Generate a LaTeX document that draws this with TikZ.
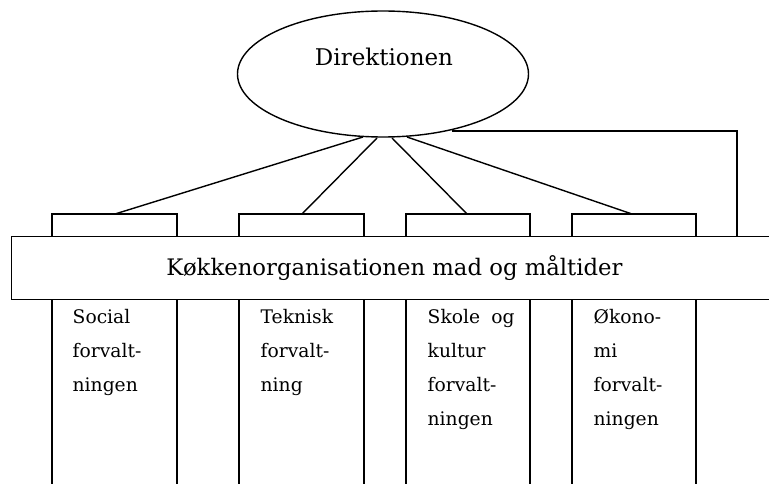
\documentclass[tikz,border=0pt]{standalone}
\usepackage{fontspec}
\setmainfont{DejaVu Serif}
\usetikzlibrary{shapes.geometric,calc}
\begin{document}
\begin{tikzpicture}[x=1pt,y=-1pt,line width=1.4pt,
  col/.style={draw,line width=1.4pt},
  coltext/.style={anchor=north west,align=left,inner sep=0pt,font=\fontsize{18.7}{34}\selectfont},
  conn/.style={draw,line width=1.4pt}]
\useasboundingbox (0,0) rectangle (769,484);
\begin{scope}
\clip (0,0) rectangle (769,484);
% columns (boxes behind the bar)
\draw[col] (52,214) rectangle (177,520);
\draw[col] (239,214) rectangle (364,520);
\draw[col] (406,214) rectangle (530,520);
\draw[col] (572,214) rectangle (696,520);
\coordinate (b1) at (115,214);
\coordinate (b2) at (302,214);
\coordinate (b3) at (467,214);
\coordinate (b4) at (632,214);
% bar
\node[draw,fill=white,line width=1.4pt,minimum width=771pt,minimum height=63pt,inner sep=0pt,anchor=north west] (bar) at (11,236) {};
\node[font=\fontsize{22.75}{26}\selectfont] (bartext) at (394.5,268) {Køkkenorganisationen mad og måltider};
% ellipse
\node[ellipse,draw,line width=1.4pt,minimum width=291pt,minimum height=126pt,inner sep=0pt] (dir) at (383,74) {};
\node[font=\fontsize{23}{26}\selectfont] (dirtext) at (384,57) {Direktionen};
\coordinate (e1) at (363,137);
\coordinate (e2) at (377,138);
\coordinate (e3) at (392,138);
\coordinate (e4) at (407,137);
\coordinate (eR) at (452,131);
\coordinate (corner) at (737,131);
\coordinate (barR) at (737,236);
\draw[conn] (e1) -- (b1);
\draw[conn] (e2) -- (b2);
\draw[conn] (e3) -- (b3);
\draw[conn] (e4) -- (b4);
\draw[conn] (eR) -- (corner) -- (barR);
% column texts
\node[coltext] (t1) at (72,309) {Social\\forvalt-\\ningen};
\node[coltext] (t2) at (260,309) {Teknisk\\forvalt-\\ning};
\node[coltext] (t3) at (427,309) {Skole\hspace{0.6em}og\\kultur\\forvalt-\\ningen};
\node[coltext] (t4) at (593,309) {Øko\-no-\\mi\\forvalt-\\ningen};
\end{scope}
\end{tikzpicture}
\end{document}
